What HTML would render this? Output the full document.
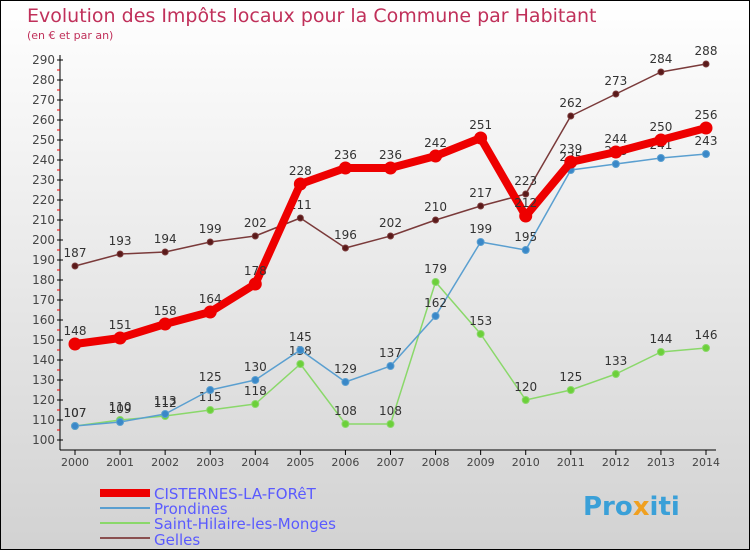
<!DOCTYPE html>
<html><head><meta charset="utf-8"><style>
body{margin:0}
#c{width:750px;height:550px;position:relative;overflow:hidden;font-family:"DejaVu Sans","Liberation Sans",sans-serif}
</style></head><body>
<div id="c">
<svg id="s" width="750" height="550" xmlns="http://www.w3.org/2000/svg">
<defs><linearGradient id="bg" x1="0" y1="0" x2="0" y2="1"><stop offset="0" stop-color="#ffffff"/><stop offset="1" stop-color="#d2d2d2"/></linearGradient></defs>
<rect x="0.5" y="0.5" width="749" height="549" fill="url(#bg)" stroke="#000"/>
<text x="27" y="22" font-size="19" fill="#c0305a">Evolution des Impôts locaux pour la Commune par Habitant</text>
<text x="27" y="39" font-size="11" fill="#c0305a">(en € et par an)</text>
<g id="axes"></g><g id="series"></g>
<g font-size="15" fill="#5a5aff">
<line x1="100" y1="493" x2="150" y2="493" stroke="#ee0000" stroke-width="8"/>
<text x="154" y="499">CISTERNES-LA-FORêT</text>
<line x1="100" y1="508" x2="150" y2="508" stroke="#5a9fd0" stroke-width="2"/>
<text x="154" y="514">Prondines</text>
<line x1="100" y1="523" x2="150" y2="523" stroke="#8ad86a" stroke-width="2"/>
<text x="154" y="529">Saint-Hilaire-les-Monges</text>
<line x1="100" y1="538" x2="150" y2="538" stroke="#8a5050" stroke-width="2"/>
<text x="154" y="545">Gelles</text>
</g>
<text x="583" y="515" font-size="26" font-weight="bold" fill="#3aa0d8">Pro<tspan fill="#f0a020">x</tspan>iti</text>
</svg>
</div>
<script>
const years=[2000,2001,2002,2003,2004,2005,2006,2007,2008,2009,2010,2011,2012,2013,2014];
const cisternes=[148,151,158,164,178,228,236,236,242,251,212,239,244,250,256];
const prondines=[107,109,113,125,130,145,129,137,162,199,195,235,238,241,243];
const saintHilaire=[107,110,112,115,118,138,108,108,179,153,120,125,133,144,146];
const gelles=[187,193,194,199,202,211,196,202,210,217,223,262,273,284,288];
const yTicks=[100,110,120,130,140,150,160,170,180,190,200,210,220,230,240,250,260,270,280,290];
const NS="http://www.w3.org/2000/svg";
const X=i=>75+i*(706-75)/(years.length-1);
const Y=v=>60+(290-v)*2;
function mk(t,a,p){const e=document.createElementNS(NS,t);for(const k in a)e.setAttribute(k,a[k]);p.appendChild(e);return e;}
const ax=document.getElementById('axes'),sg=document.getElementById('series');
const ya=mk('line',{x1:60,y1:55,x2:60,y2:450,stroke:'#000'},ax);


const xa=mk('line',{x1:60,y1:450,x2:716,y2:450,stroke:'#000'},ax);


yTicks.forEach(v=>{
 mk('line',{x1:57,y1:Y(v),x2:63,y2:Y(v),stroke:'#000'},ax);
 if(v<290)mk('line',{x1:57,y1:Y(v+5),x2:60,y2:Y(v+5),stroke:'#e00'},ax);
 const t=mk('text',{x:55,y:Y(v)+4,'font-size':12,fill:'#444','text-anchor':'end'},ax);t.textContent=v;
 
 
});
years.forEach((y,i)=>{
 mk('line',{x1:X(i),y1:450,x2:X(i),y2:455,stroke:'#000'},ax);
 const t=mk('text',{x:X(i),y:466,'font-size':11,fill:'#444','text-anchor':'middle'},ax);t.textContent=y;
 
 
});
function draw(data,name,color,w,r,dot){
 const g=mk('g',{},sg);
 
 
 mk('polyline',{points:data.map((v,i)=>X(i)+','+Y(v)).join(' '),fill:'none',stroke:color,'stroke-width':w,'stroke-linejoin':'round'},g);
 data.forEach((v,i)=>{
  const c=mk('circle',{cx:X(i),cy:Y(v),r:r,fill:dot,stroke:color,'stroke-width':1},g);
  
  
  const t=mk('text',{x:X(i),y:Y(v)-9,'font-size':12,fill:'#333','text-anchor':'middle'},g);t.textContent=v;
  
  
 });
}
draw(gelles,'gelles','#7a3a3a',1.5,3,'#5a1a1a');
draw(saintHilaire,'saint-hilaire','#8ad86a',1.5,3.5,'#6cd03a');
draw(prondines,'prondines','#5a9fd0',1.5,3.5,'#3a88c8');
draw(cisternes,'cisternes','#ee0000',8,6,'#ee0000');
</script>
</body></html>
